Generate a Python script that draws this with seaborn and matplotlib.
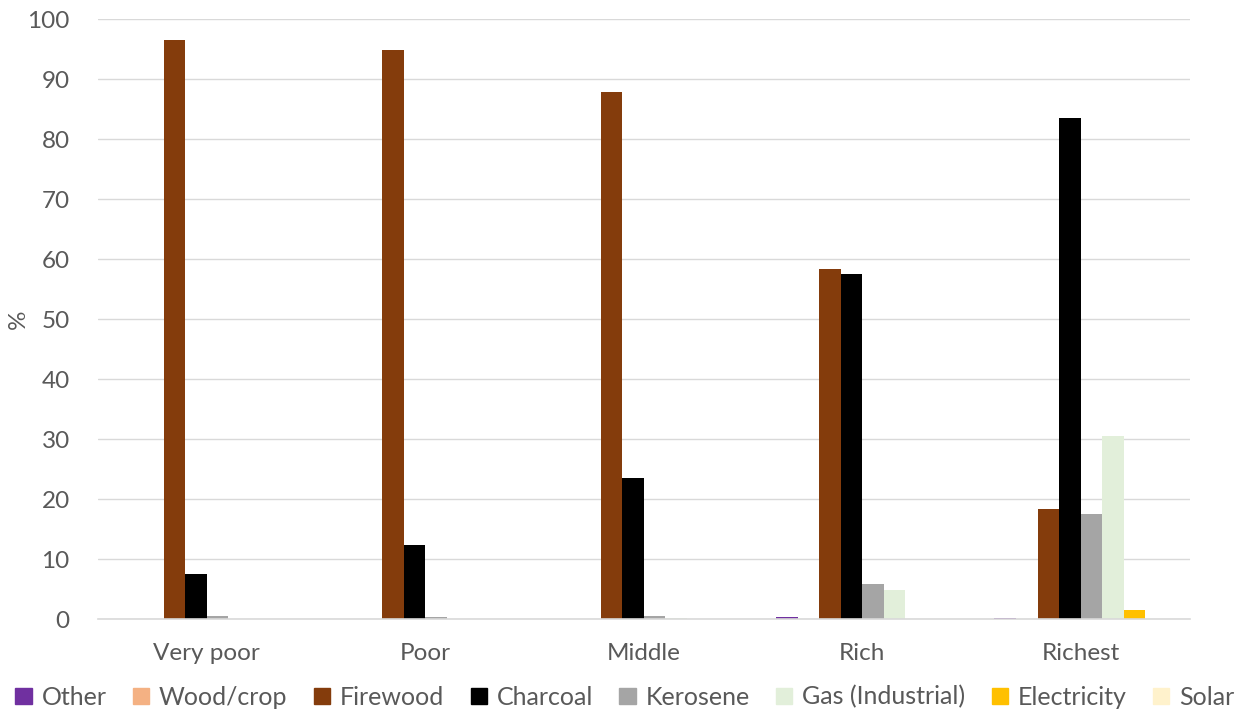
import matplotlib
matplotlib.use("Agg")
import matplotlib.pyplot as plt
import seaborn as sns
import pandas as pd

groups = ["Very poor", "Poor", "Middle", "Rich", "Richest"]
fuels = ["Other", "Wood/crop", "Firewood", "Charcoal", "Kerosene",
         "Gas (Industrial)", "Electricity", "Solar"]
colors = ["#7030A0", "#F4B183", "#843C0C", "#000000", "#A5A5A5",
          "#E2EFDA", "#FFC000", "#FFF2CC"]

other       = [0.1, 0.1, 0.1, 0.4, 0.2]
wood_crop   = [0.1, 0.1, 0.1, 0.1, 0.1]
firewood    = [96.6, 94.8, 87.8, 58.3, 18.3]
charcoal    = [7.5, 12.4, 23.5, 57.5, 83.6]
kerosene    = [0.5, 0.3, 0.5, 5.8, 17.6]
gas         = [0.1, 0.1, 0.2, 4.8, 30.5]
electricity = [0.0, 0.0, 0.1, 0.1, 1.5]
solar       = [0.0, 0.0, 0.1, 0.0, 0.0]

series = [other, wood_crop, firewood, charcoal, kerosene, gas, electricity, solar]
rows = []
for fuel, vals in zip(fuels, series):
    for g, v in zip(groups, vals):
        rows.append({"group": g, "fuel": fuel, "value": v})
df = pd.DataFrame(rows)

sns.set_theme(style="white")
plt.rcParams["font.family"] = ["Lato", "DejaVu Sans"]

fig = plt.figure(figsize=(12.5, 7.15), dpi=100)
ax = fig.add_axes([0.078, 0.134, 0.874, 0.839])

sns.barplot(data=df, x="group", y="value", hue="fuel", order=groups,
            hue_order=fuels, palette=colors, width=0.79, linewidth=0,
            errorbar=None, ax=ax, saturation=1, legend=True)

ax.set_ylim(0, 100)
ax.set_yticks(range(0, 101, 10))
ax.yaxis.grid(True, color="#D9D9D9", linewidth=1)
ax.set_axisbelow(True)
for s in ["top", "right", "left"]:
    ax.spines[s].set_visible(False)
ax.spines["bottom"].set_color("#D9D9D9")
ax.spines["bottom"].set_linewidth(1.2)
ax.tick_params(axis="both", length=0, labelsize=17.5, colors="#595959")
ax.tick_params(axis="y", pad=20)
ax.tick_params(axis="x", pad=17)
ax.set_xlabel("")
ax.set_ylabel("%", fontsize=17.5, color="#595959")
ax.yaxis.set_label_coords(-0.063, 0.5)

ax.get_legend().remove()
handles = [plt.Rectangle((0, 0), 1, 1, color=c) for c in colors]
fig.legend(handles, fuels, loc="center", bbox_to_anchor=(0.5, 0.025),
           ncol=8, frameon=False, fontsize=18, labelcolor="#595959",
           handlelength=0.65, handleheight=0.65, handletextpad=0.4,
           columnspacing=1.05)

fig.savefig("out.png", dpi=100)
